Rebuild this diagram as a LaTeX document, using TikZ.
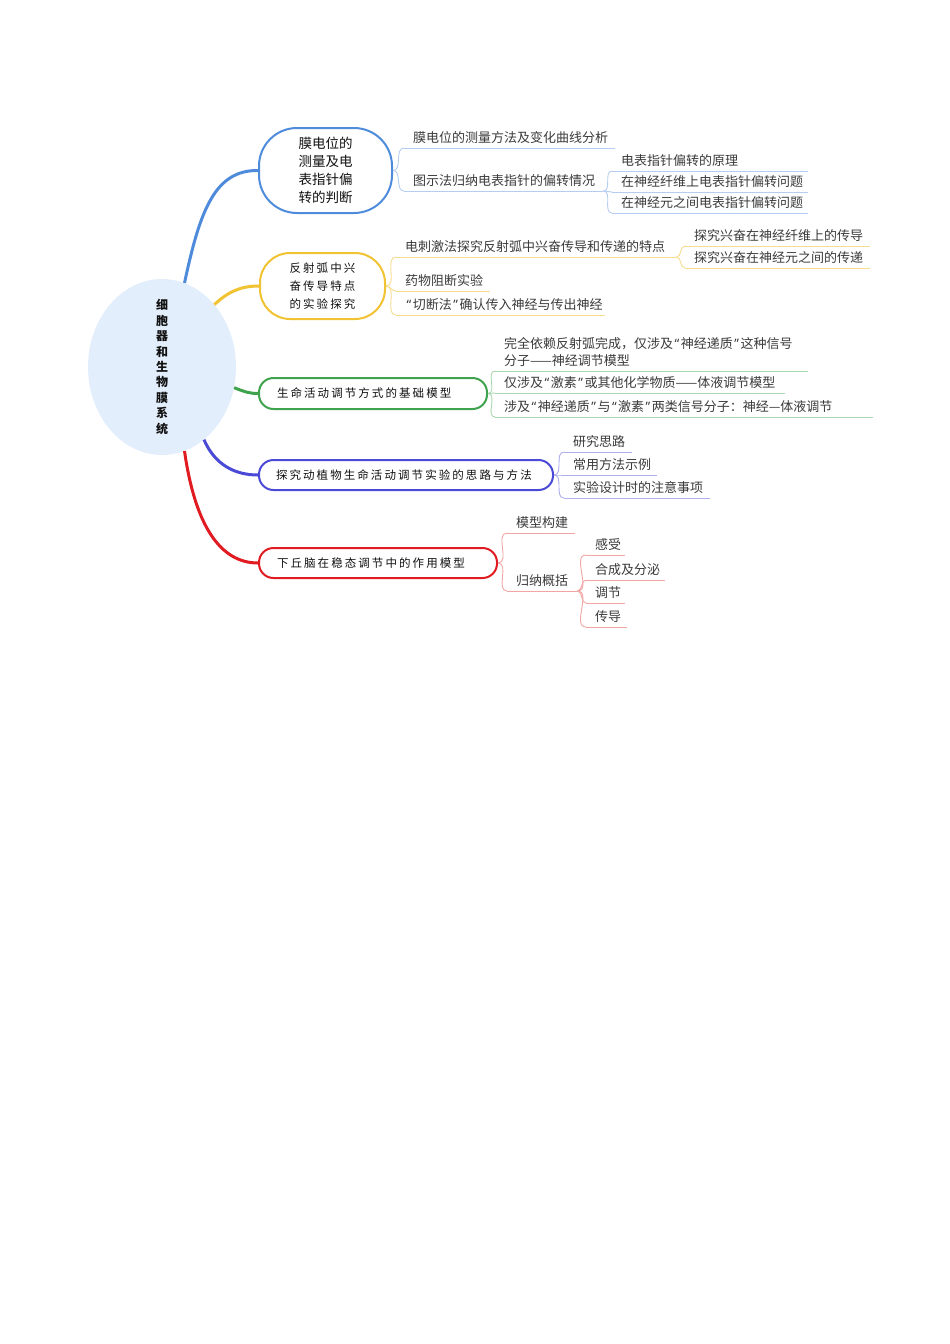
\documentclass[tikz,border=0pt]{standalone}
\usepackage{fontspec}
\setmainfont{Noto Sans CJK SC}
\newfontfamily\boxfont[LetterSpace=18]{Noto Sans CJK SC}
\newfontfamily\qfont{Noto Sans}
\newcommand\myoq{{\kern1.5pt\qfont “\kern1.5pt}}
\newcommand\mycq{{\kern1.5pt\qfont ”\kern1.5pt}}
\usetikzlibrary{shapes.geometric}
\definecolor{cblue}{HTML}{4F8BDB}
\definecolor{lblue}{HTML}{B4CDF0}
\definecolor{cyel}{HTML}{F1C232}
\definecolor{lyel}{HTML}{F6DC8E}
\definecolor{cgreen}{HTML}{3FA34D}
\definecolor{lgreen}{HTML}{A9D8AE}
\definecolor{cpur}{HTML}{4A4AD6}
\definecolor{lpur}{HTML}{AFAFEE}
\definecolor{cred}{HTML}{E01B22}
\definecolor{lred}{HTML}{F2A5A5}
\definecolor{cfill}{HTML}{E3EEFC}
\definecolor{txtl}{HTML}{3A3A3A}
\definecolor{txtd}{HTML}{111111}
\tikzset{
  leaf/.style={anchor=south west, inner xsep=9pt, inner ysep=0pt, align=left,
    font=\fontsize{13}{17}\selectfont, text=txtl},
  thinline/.style={line width=0.9pt},
  mainline/.style={line width=3pt},
  mbox/.style={draw, line width=2pt, fill=white, rounded corners=14.5pt,
    inner xsep=18pt, inner ysep=0pt, align=left, text=txtd,
    font=\fontsize{11.5}{14}\selectfont\boxfont},
}
\newcommand\leaf[6]{%
  \pgfmathsetmacro\leafw{#5-#3-18}%
  \node[leaf, text width=\leafw pt] (#2) at (#3,#4) {\mbox{#6}\strut};
  \draw[#1, thinline] (#2.south west) -- (#2.south east);
}
\begin{document}
\begin{tikzpicture}[x=1pt,y=-1pt]
\useasboundingbox (0,0) rectangle (950,1344);

% central
\node[ellipse, fill=cfill, minimum width=148pt, minimum height=176pt, inner sep=0pt] (c) at (162,367) {};
\node[align=center, text=txtd, font=\bfseries\fontsize{12}{15.4}\selectfont] (ct) at (c.center)
  {细\\胞\\器\\和\\生\\物\\膜\\系\\统};

% branch boxes
\node[mbox, draw=cblue, align=center, rounded corners=38pt, minimum width=133pt, minimum height=85pt,
  font=\fontsize{13.5}{18}\selectfont] (b) at (325.5,170.5) {膜电位的\\测量及电\\表指针偏\\转的判断};
\node[mbox, draw=cyel, align=center, rounded corners=30pt, minimum width=125pt, minimum height=66pt,
  font=\fontsize{11.5}{18}\selectfont\boxfont] (y) at (322.5,286) {反射弧中兴\\奋传导特点\\的实验探究};
\node[mbox, draw=cgreen, text width=192pt, minimum height=31pt] (g) at (373,393.5) {生命活动调节方式的基础模型};
\node[mbox, draw=cpur, text width=260pt, minimum height=30pt, inner xsep=17pt] (p) at (406,475) {探究动植物生命活动调节实验的思路与方法};
\node[mbox, draw=cred, text width=202pt, minimum height=30pt] (r) at (378,563) {下丘脑在稳态调节中的作用模型};

% main connectors
\draw[cblue, mainline] (c.75) .. controls (200,210) and (215,170) .. (b.west);
\draw[cyel, mainline] (c.50) .. controls (228,292) and (240,286) .. (y.west);
\draw[cgreen, mainline] (c.-16) .. controls (245,392) and (250,393.5) .. (g.west);
\draw[cpur, mainline] (c.-60) .. controls (215,465) and (235,475) .. (p.west);
\draw[cred, mainline] (c.-75) .. controls (195,525) and (220,563) .. (r.west);

% blue leaves
\leaf{lblue}{b1}{404}{148}{615}{膜电位的测量方法及变化曲线分析}
\leaf{lblue}{b2}{404}{191}{603}{图示法归纳电表指针的偏转情况}
\leaf{lblue}{b21}{612}{171}{808}{电表指针偏转的原理}
\leaf{lblue}{b22}{612}{192}{808}{在神经纤维上电表指针偏转问题}
\leaf{lblue}{b23}{612}{213}{808}{在神经元之间电表指针偏转问题}
\foreach \n in {b1,b2} \draw[lblue, thinline] (b.east) to[out=0,in=180] (\n.south west);
\foreach \n in {b21,b22,b23} \draw[lblue, thinline] (b2.south east) to[out=0,in=180] (\n.south west);

% yellow leaves
\leaf{lyel}{y1}{396}{257}{676}{电刺激法探究反射弧中兴奋传导和传递的特点}
\leaf{lyel}{y2}{396}{291}{490}{药物阻断实验}
\leaf{lyel}{y3}{396}{315}{605}{\myoq 切断法\mycq 确认传入神经与传出神经}
\leaf{lyel}{y11}{685}{246}{870}{探究兴奋在神经纤维上的传导}
\leaf{lyel}{y12}{685}{268}{870}{探究兴奋在神经元之间的传递}
\foreach \n in {y1,y2,y3} \draw[lyel, thinline] (y.east) to[out=0,in=180] (\n.south west);
\foreach \n in {y11,y12} \draw[lyel, thinline] (y1.south east) to[out=0,in=180] (\n.south west);

% green leaves
\node[leaf, text width=295pt] (g1) at (495,371)
  {\mbox{完全依赖反射弧完成，仅涉及\myoq 神经递质\mycq 这种信号}\\\mbox{分子——神经调节模型}\strut};
\draw[lgreen, thinline] (g1.south west) -- (g1.south east);
\leaf{lgreen}{g2}{495}{393}{785}{仅涉及\myoq 激素\mycq 或其他化学物质——体液调节模型}
\leaf{lgreen}{g3}{495}{417}{873}{涉及\myoq 神经递质\mycq 与\myoq 激素\mycq 两类信号分子：神经—体液调节}
\foreach \n in {g1,g2,g3} \draw[lgreen, thinline] (g.east) to[out=0,in=180] (\n.south west);

% purple leaves
\leaf{lpur}{p1}{564}{452}{632}{研究思路}
\leaf{lpur}{p2}{564}{475}{657}{常用方法示例}
\leaf{lpur}{p3}{564}{498}{710}{实验设计时的注意事项}
\foreach \n in {p1,p2,p3} \draw[lpur, thinline] (p.east) to[out=0,in=180] (\n.south west);

% red leaves
\leaf{lred}{r1}{507}{533}{575}{模型构建}
\leaf{lred}{r2}{507}{591}{577}{归纳概括}
\leaf{lred}{r21}{586}{555}{625}{感受}
\leaf{lred}{r22}{586}{580}{665}{合成及分泌}
\leaf{lred}{r23}{586}{603}{625}{调节}
\leaf{lred}{r24}{586}{627}{627}{传导}
\foreach \n in {r1,r2} \draw[lred, thinline] (r.east) to[out=0,in=180] (\n.south west);
\foreach \n in {r21,r22,r23,r24} \draw[lred, thinline] (r2.south east) to[out=0,in=180] (\n.south west);
\end{tikzpicture}
\end{document}
